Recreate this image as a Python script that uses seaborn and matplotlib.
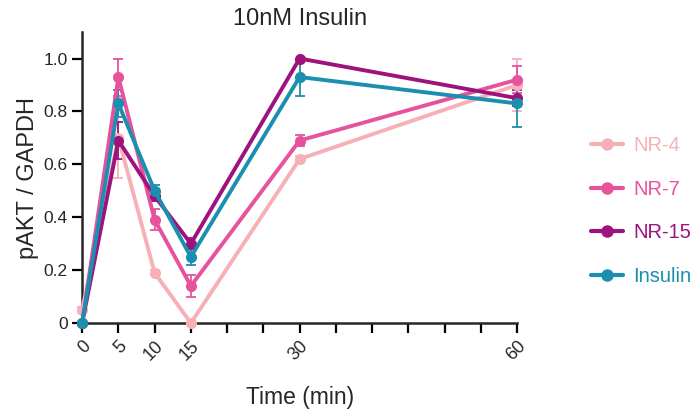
import numpy as np
import pandas as pd
import seaborn as sns
import matplotlib.pyplot as plt

time_min = [0, 5, 10, 15, 30, 60]
groups = ["NR-4", "NR-7", "NR-15", "Insulin"]

nr4_mean = [0.05, 0.70, 0.19, 0.00, 0.62, 0.90]
nr4_err = [0.01, 0.15, 0.01, 0.00, 0.01, 0.10]
nr7_mean = [0.00, 0.93, 0.39, 0.14, 0.69, 0.92]
nr7_err = [0.00, 0.07, 0.04, 0.04, 0.02, 0.05]
nr15_mean = [0.00, 0.69, 0.48, 0.30, 1.00, 0.85]
nr15_err = [0.00, 0.07, 0.02, 0.02, 0.00, 0.03]
ins_mean = [0.00, 0.83, 0.50, 0.25, 0.93, 0.83]
ins_err = [0.00, 0.05, 0.02, 0.03, 0.07, 0.09]

colors = ["#F6B0B6", "#E6529B", "#9E127E", "#1B8FAF"]

means = [nr4_mean, nr7_mean, nr15_mean, ins_mean]
errs = [nr4_err, nr7_err, nr15_err, ins_err]

df = pd.DataFrame({
    "time": time_min * 4,
    "value": sum(means, []),
    "err": sum(errs, []),
    "group": np.repeat(groups, len(time_min)),
})

sns.set_style("ticks")
plt.rcParams["font.family"] = ["Liberation Sans", "DejaVu Sans"]

fig = plt.figure(figsize=(6.96, 4.11), dpi=100)
ax = fig.add_axes([0.118, 0.214, 0.625, 0.708])

sns.lineplot(data=df, x="time", y="value", hue="group", hue_order=groups,
             palette=colors, marker="o", markersize=8, markeredgewidth=0,
             linewidth=2.8, ax=ax, legend=False, clip_on=False, zorder=3)

for g, c in zip(groups, colors):
    sub = df[df["group"] == g]
    ax.errorbar(sub["time"], sub["value"], yerr=sub["err"], fmt="none",
                ecolor=c, elinewidth=1.3, capsize=3.5, capthick=1.3,
                clip_on=False, zorder=2)

ax.set_xlim(0, 60)
ax.set_ylim(0, 1.1)
ax.set_xticks(np.arange(0, 61, 5))
ax.set_xticklabels([str(t) if t in time_min else "" for t in range(0, 61, 5)],
                   rotation=45, ha="right", va="top", rotation_mode="anchor",
                   fontsize=13)
ax.set_yticks([0, 0.2, 0.4, 0.6, 0.8, 1.0])
ax.set_yticklabels(["0", "0.2", "0.4", "0.6", "0.8", "1.0"], fontsize=12.5)
ax.tick_params(axis="both", direction="out", length=7, width=1.6, color="black")
for s in ["left", "bottom"]:
    ax.spines[s].set_linewidth(1.8)
sns.despine(ax=ax)

ax.set_xlabel("Time (min)", fontsize=16.5, labelpad=16)
ax.set_ylabel("pAKT / GAPDH", fontsize=17, labelpad=3)
ax.set_title("10nM Insulin", fontsize=17, pad=5)

handles = [plt.Line2D([], [], color=c, marker="o", markersize=9,
                      markeredgewidth=0, linewidth=3) for c in colors]
leg = ax.legend(handles, groups, loc="center left", bbox_to_anchor=(1.17, 0.385),
                frameon=False, fontsize=14.5, handlelength=1.6, labelspacing=1.22,
                handletextpad=0.5, borderpad=0, borderaxespad=0)
for t, c in zip(leg.get_texts(), colors):
    t.set_color(c)

fig.savefig("out.png", dpi=100)
